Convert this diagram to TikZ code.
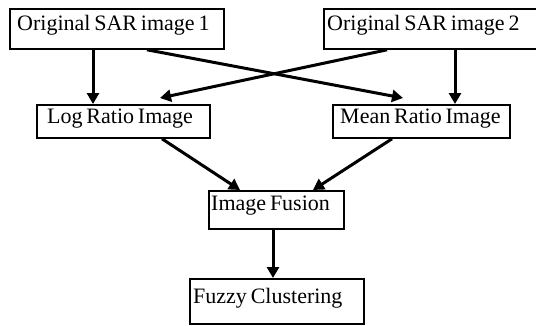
\documentclass[tikz,border=0pt]{standalone}
\usepackage{fontspec}
\setmainfont[WordSpace=0.7]{Liberation Serif}
\usetikzlibrary{arrows.meta}
\begin{document}
\begin{tikzpicture}[x=1pt,y=-1pt,
  box/.style={draw,line width=1.8pt,rectangle,inner sep=0pt,anchor=north west},
  lbl/.style={inner sep=0pt,anchor=base west,font=\fontsize{22}{24}\selectfont},
  arr/.style={line width=3pt,-{Triangle[width=12pt,length=11pt]}}]
\useasboundingbox (0,0) rectangle (536,325);
\node[box,minimum width=214pt,minimum height=40pt] (b1) at (9,8) {};
\node[box,minimum width=220pt,minimum height=40pt] (b2) at (323,8) {};
\node[box,minimum width=173pt,minimum height=33pt] (log) at (36,104) {};
\node[box,minimum width=177pt,minimum height=33pt] (mean) at (332,104) {};
\node[box,minimum width=135pt,minimum height=38pt] (fusion) at (208,190) {};
\node[box,minimum width=174pt,minimum height=45pt] (fuzzy) at (189,278) {};
\node[lbl] (t1) at (17,30) {Original SAR image 1};
\node[lbl] (t2) at (327,30) {Original SAR image 2};
\node[lbl] (tlog) at (47,123) {Log Ratio Image};
\node[lbl] (tmean) at (340,123) {Mean Ratio Image};
\node[lbl] (tfusion) at (211,210) {Image Fusion};
\node[lbl] (tfuzzy) at (193,303) {Fuzzy Clustering};
\draw[arr] ([xshift=84pt]b1.south west) -- ([xshift=57pt]log.north west);
\draw[arr] ([xshift=138pt]b1.south west) -- ([xshift=71pt,yshift=6pt]mean.north west);
\draw[arr] ([xshift=64pt]b2.south west) -- ([xshift=124pt,yshift=6pt]log.north west);
\draw[arr] ([xshift=132pt]b2.south west) -- ([xshift=123pt]mean.north west);
\draw[arr] ([xshift=126pt]log.south west) -- ([xshift=32pt]fusion.north west);
\draw[arr] ([xshift=60pt]mean.south west) -- ([xshift=105pt]fusion.north west);
\draw[arr] ([xshift=65pt]fusion.south west) -- ([xshift=84pt]fuzzy.north west);
\end{tikzpicture}
\end{document}
